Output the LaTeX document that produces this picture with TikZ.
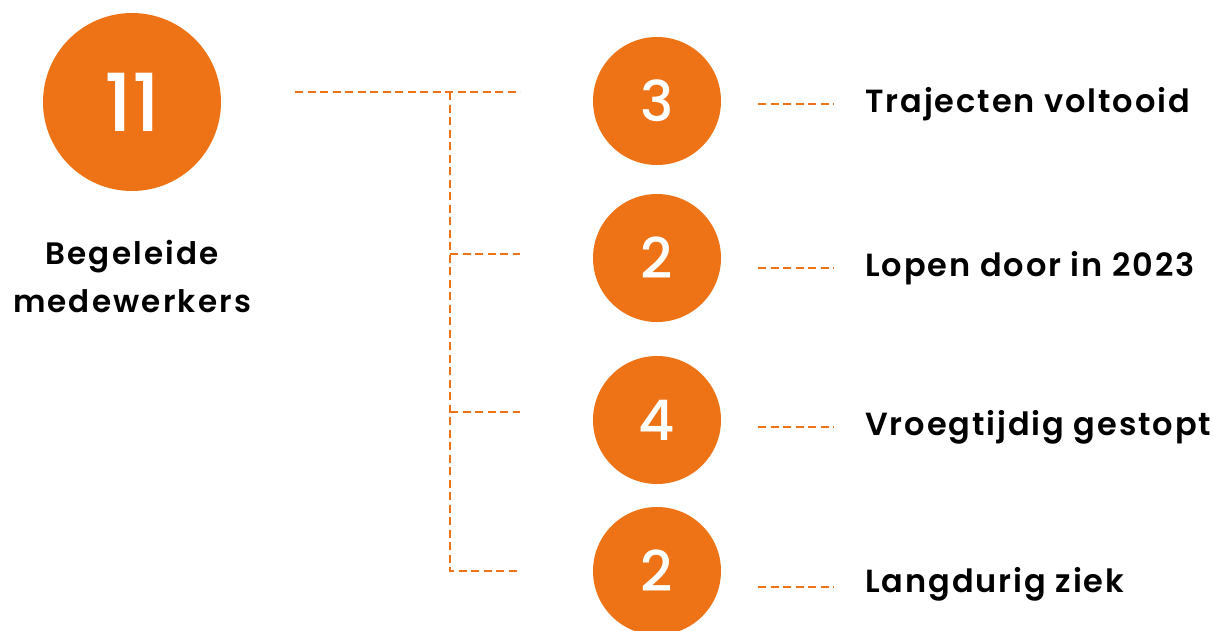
\documentclass[tikz,border=0pt]{standalone}
\usepackage{fontspec}
\setmainfont{Poppins}[BoldFont={* SemiBold}]
\newfontfamily\numfont{Poppins}[UprightFont={* Medium}]
\definecolor{brand}{HTML}{EE7316}
\begin{document}
\begin{tikzpicture}[x=1pt,y=-1pt,
  dot/.style={circle,fill=brand,inner sep=0pt,minimum size=128pt,text=white,font=\numfont\fontsize{56}{56}\selectfont},
  bigdot/.style={circle,fill=brand,inner sep=0pt,minimum size=178pt,text=white,font=\numfont\fontsize{80}{80}\selectfont},
  lab/.style={anchor=west,inner sep=0pt,font=\fontsize{32}{32}\bfseries\addfontfeature{LetterSpace=6}},
  conn/.style={draw=brand,line width=2pt,dash pattern=on 8pt off 4.5pt}]
\useasboundingbox (0,0) rectangle (1213,630);
\node[bigdot] (big) at (132,102) {11};
\node[align=center,font=\fontsize{31}{48}\bfseries\addfontfeature{LetterSpace=7}] (cap) at (132,276) {Begeleide\\medewerkers};
\node[dot] (c1) at (657,101) {3};
\node[dot] (c2) at (657,258) {2};
\node[dot] (c3) at (657,420) {4};
\node[dot] (c4) at (657,571) {2};
\node[lab] (t1) at (865,104) {Trajecten voltooid};
\node[lab] (t2) at (865,268) {Lopen door in 2023};
\node[lab] (t3) at (865,427) {Vroegtijdig gestopt};
\node[lab] (t4) at (865,584) {Langdurig ziek};
\coordinate (s) at (295,92);
\coordinate (j0) at (450,92);
\coordinate (e1) at (520,92);
\coordinate (j2) at (450,254);
\coordinate (e2) at (520,254);
\coordinate (j3) at (450,412);
\coordinate (e3) at (520,412);
\coordinate (j4) at (450,571);
\coordinate (e4) at (520,571);
\path[conn] (s) -- (e1);
\path[conn] (j0) -- (j4) -- (e4);
\path[conn] (j2) -- (e2);
\path[conn] (j3) -- (e3);
\foreach \i/\y in {1/104,2/268,3/427,4/587}{
  \coordinate (a\i) at (758,\y);
  \coordinate (b\i) at (834,\y);
  \path[conn] (a\i) -- (b\i);
}
\end{tikzpicture}
\end{document}
